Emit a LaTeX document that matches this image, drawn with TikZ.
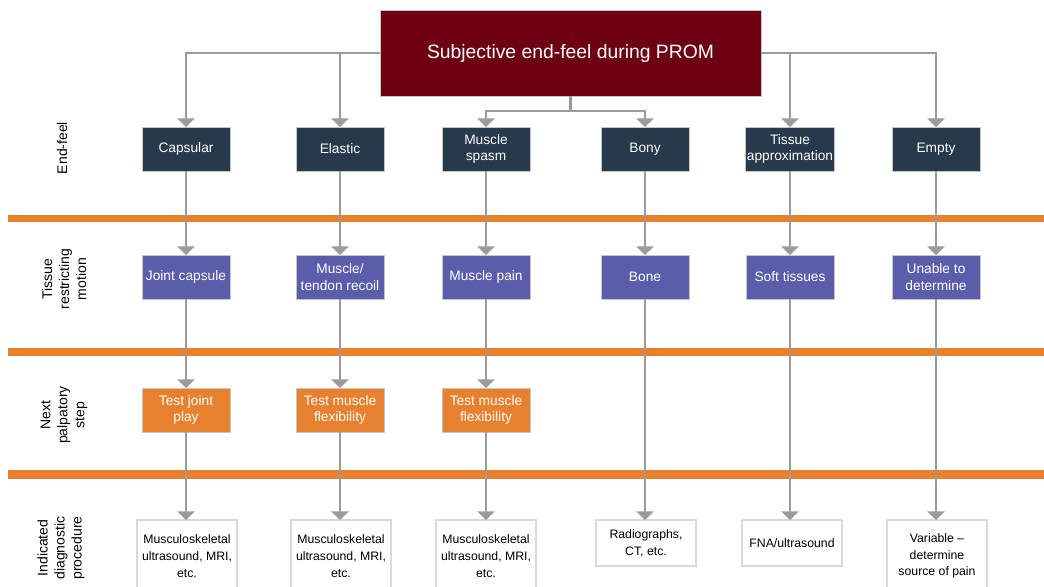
\documentclass[tikz,border=0pt]{standalone}
\usepackage{fontspec}
\setmainfont{Liberation Sans}
\usetikzlibrary{positioning,arrows.meta}
\definecolor{promred}{HTML}{6E0014}
\definecolor{feelblue}{HTML}{263A4C}
\definecolor{tissueblue}{HTML}{5A5EAA}
\definecolor{steporange}{HTML}{E8812F}
\definecolor{linegray}{HTML}{9B9B9B}
\tikzset{
    %Define standard arrow tip
    >={Triangle[width=13pt,length=6.5pt]},
    % Define arrow style
    pil/.style={
           ->,
           draw=linegray,
           line width=2pt},
    % Define box styles
    box/.style={
           rectangle,
           draw=gray!45,
           line width=0.6pt,
           minimum width=66pt,
           minimum height=33pt,
           inner sep=1pt,
           align=center,
           text=white,
           font=\fontsize{10.3}{12.5}\selectfont},
    feel/.style={box, fill=feelblue},
    tissue/.style={box, fill=tissueblue},
    palp/.style={box, fill=steporange},
    diag/.style={
           rectangle,
           draw=gray!30,
           line width=1pt,
           fill=white,
           minimum width=75pt,
           inner sep=1pt,
           align=center,
           text=black,
           font=\fontsize{9.2}{12.6}\selectfont},
    rowlabel/.style={
           rotate=90,
           align=center,
           font=\fontsize{10.5}{12.75}\selectfont}
}

\begin{document}
\begin{tikzpicture}[x=0.75pt, y=-0.75pt, outer sep=0pt]

\useasboundingbox (0,0) rectangle (1044,586);

%%%%%%%%%%%%%%%%%%%%%%%%%%%%%%%%%

% orange bands
\fill [steporange] (8,215) rectangle (1044,222);
\fill [steporange] (8,348) rectangle (1044,356);
\fill [steporange] (8,470) rectangle (1044,479);

% row labels
\node [rowlabel] (lfeel)   at (62,148) {End-feel};
\node [rowlabel] (ltissue) at (64,279) {Tissue\\restricting\\motion};
\node [rowlabel] (lpalp)   at (64,415) {Next\\palpatory\\step};
\node [rowlabel] (ldiag)   at (61,548) {Indicated\\diagnostic\\procedure};

% top box
\node [rectangle, draw=gray!45, fill=promred, text=white,
       minimum width=285.75pt, minimum height=64.5pt,
       font=\fontsize{14.5}{16}\selectfont] (prom) at (570.5,53)
       {Subjective end-feel during PROM};

% end-feel
\node [feel] (capsular) at (186,149) {Capsular};
\node [feel] (elastic)  at (340,149) {Elastic};
\node [feel] (spasm)    at (486,149) {Muscle\\spasm};
\node [feel] (bony)     at (645,149) {Bony};
\node [feel] (approx)   at (790,149) {Tissue\\approximation};
\node [feel] (empty)    at (936,149) {Empty};

% tissue restricting motion
\node [tissue] (capsule)  at (186,277) {Joint capsule};
\node [tissue] (recoil)   at (340,277) {Muscle/\\tendon recoil};
\node [tissue] (pain)     at (486,277) {Muscle pain};
\node [tissue] (bone)     at (645,277) {Bone};
\node [tissue] (soft)     at (790,277) {Soft tissues};
\node [tissue] (unable)   at (936,277) {Unable to\\determine};

% next palpatory step
\node [palp] (jointplay) at (186,410) {Test joint\\play};
\node [palp] (flexa)     at (340,410) {Test muscle\\flexibility};
\node [palp] (flexb)     at (486,410) {Test muscle\\flexibility};

% diagnostic procedure
\node [diag, minimum height=54pt]   (msk1)  at (187,556) {Musculoskeletal\\ultrasound, MRI,\\etc.};
\node [diag, minimum height=54pt]   (msk2)  at (341,556) {Musculoskeletal\\ultrasound, MRI,\\etc.};
\node [diag, minimum height=54pt]   (msk3)  at (486,556) {Musculoskeletal\\ultrasound, MRI,\\etc.};
\node [diag, minimum height=34.5pt] (radio) at (646,543) {Radiographs,\\CT, etc.};
\node [diag, minimum height=34.5pt] (fna)   at (792,543) {FNA/ultrasound};
\node [diag, minimum height=54pt]   (var)   at (937,556) {Variable --\\determine\\source of pain};

% connectors from top box
\coordinate (split) at (570.5,111);
\draw [pil] (prom.west) -| (capsular.north);
\draw [pil] (prom.west) -| (elastic.north);
\draw [pil] (prom.east) -| (approx.north);
\draw [pil] (prom.east) -| (empty.north);
\draw [draw=linegray, line width=2pt] (prom.south) -- (split);
\draw [pil] (split) -| (spasm.north);
\draw [pil] (split) -| (bony.north);

% end-feel to tissue
\draw [pil] (capsular) -- (capsule);
\draw [pil] (elastic)  -- (recoil);
\draw [pil] (spasm)    -- (pain);
\draw [pil] (bony)     -- (bone);
\draw [pil] (approx)   -- (soft);
\draw [pil] (empty)    -- (unable);

% tissue to next step
\draw [pil] (capsule) -- (jointplay);
\draw [pil] (recoil)  -- (flexa);
\draw [pil] (pain)    -- (flexb);

% to diagnostic procedure
\draw [pil] (jointplay) -- (jointplay |- msk1.north);
\draw [pil] (flexa)     -- (flexa |- msk2.north);
\draw [pil] (flexb)     -- (msk3);
\draw [pil] (bone)      -- (bone |- radio.north);
\draw [pil] (soft)      -- (soft |- fna.north);
\draw [pil] (unable)    -- (unable |- var.north);

\end{tikzpicture}
\end{document}
